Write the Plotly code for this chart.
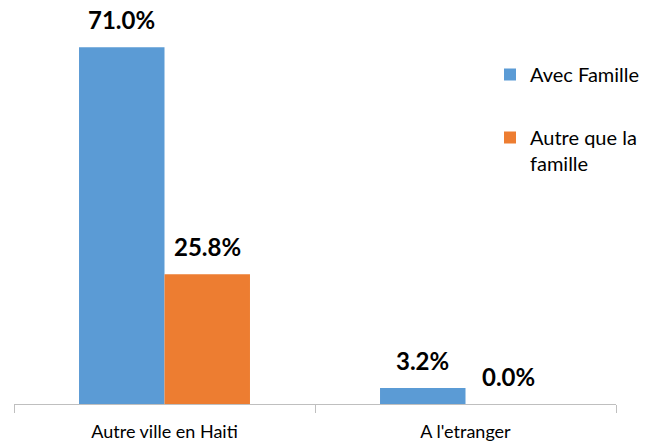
import plotly.graph_objects as go

categories = ["Autre ville en Haiti", "A l'etranger"]
series_names = ["Avec Famille", "Autre que la<br>famille"]
avec_famille = [71.0, 3.2]
autre_famille = [25.8, 0.0]
colors = ["#5B9BD5", "#ED7D31"]

fig = go.Figure()
for name, vals, col in zip(series_names, [avec_famille, autre_famille], colors):
    fig.add_trace(go.Bar(
        x=categories, y=vals, name=name, marker=dict(color=col, line=dict(width=0)),
        legendgroup=name,
    ))

annotations = []
for i, vals in enumerate([avec_famille, autre_famille]):
    for j, v in enumerate(vals):
        annotations.append(dict(
            x=j, y=v, xref="x", yref="y", text=f"<b>{v:.1f}%</b>",
            showarrow=False, yanchor="bottom", yshift=11,
            xshift=(-43 if i == 0 else 43),
            font=dict(family="Lato", size=24, color="#000000"),
        ))

fig.update_layout(
    width=651, height=442,
    margin=dict(l=14, r=35, t=8, b=38, autoexpand=False),
    paper_bgcolor="white", plot_bgcolor="white",
    barmode="group", bargap=0.432, bargroupgap=0,
    font=dict(family="Lato", size=18, color="#000000"),
    showlegend=True,
    legend=dict(x=(490 - 14) / 602, y=(396 - 47) / 396, xanchor="left", yanchor="top",
                font=dict(family="Lato", size=20, color="#000000"),
                traceorder="grouped", tracegroupgap=34, valign="top",
                itemwidth=30, bgcolor="rgba(0,0,0,0)"),
    annotations=annotations,
)
fig.update_xaxes(showline=True, linecolor="#BFBFBF", linewidth=1, automargin=False,
                 ticks="outside", tickson="boundaries", ticklen=8, tickcolor="#BFBFBF",
                 tickfont=dict(family="Lato", size=18), ticklabelstandoff=11)
fig.update_yaxes(range=[0, 78.8], visible=False, showgrid=False, zeroline=False,
                 automargin=False)

fig.write_html("out.html", config={"displayModeBar": False},
               post_script="document.body.style.margin='0';document.body.style.overflow='hidden';")
